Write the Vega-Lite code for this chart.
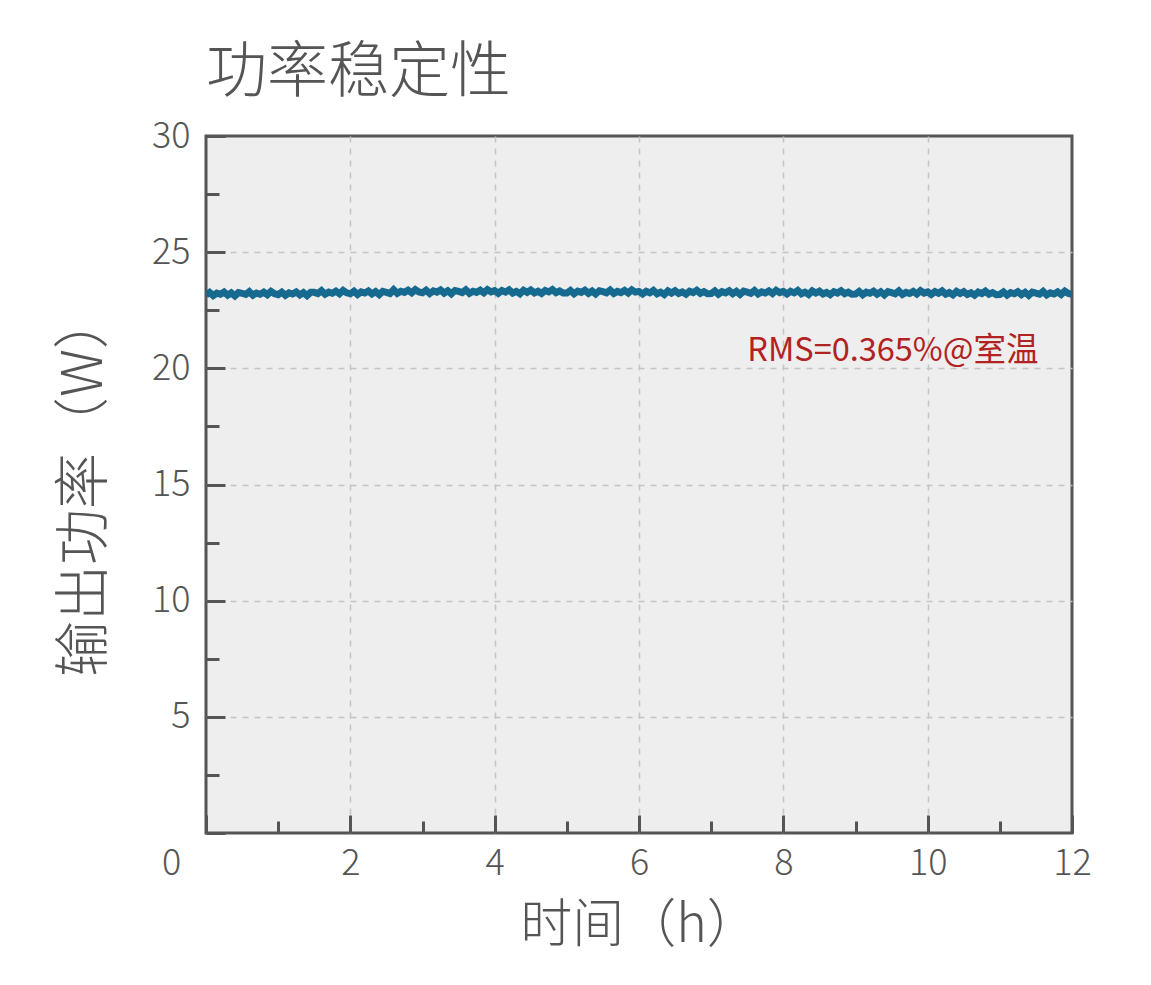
{
  "$schema": "https://vega.github.io/schema/vega-lite/v6.json",
  "autosize": {"type": "none"},
  "width": 866,
  "height": 697,
  "padding": {"left": 206, "top": 136, "right": 79, "bottom": 152},
  "background": "white",
  "config": {
    "font": "Noto Sans CJK SC",
    "view": {"fill": "#eeeeee", "stroke": "#555555", "strokeWidth": 3}
  },
  "title": {
    "text": "功率稳定性",
    "anchor": "start",
    "frame": "group",
    "fontSize": 61,
    "fontWeight": 300,
    "color": "#555555",
    "offset": 13
  },
  "datasets": {
    "power": [
      {"t":0,"p":23.16},{"t":0.05,"p":23.27},{"t":0.1,"p":23.13},{"t":0.15,"p":23.24},{"t":0.2,"p":23.19},{"t":0.25,"p":23.28},{"t":0.3,"p":23.15},{"t":0.35,"p":23.25},{"t":0.4,"p":23.12},{"t":0.45,"p":23.26},
      {"t":0.5,"p":23.23},{"t":0.55,"p":23.18},{"t":0.6,"p":23.30},{"t":0.65,"p":23.15},{"t":0.7,"p":23.24},{"t":0.75,"p":23.19},{"t":0.8,"p":23.28},{"t":0.85,"p":23.17},{"t":0.9,"p":23.31},{"t":0.95,"p":23.21},
      {"t":1,"p":23.17},{"t":1.05,"p":23.28},{"t":1.1,"p":23.14},{"t":1.15,"p":23.25},{"t":1.2,"p":23.20},{"t":1.25,"p":23.29},{"t":1.3,"p":23.16},{"t":1.35,"p":23.26},{"t":1.4,"p":23.13},{"t":1.45,"p":23.27},
      {"t":1.5,"p":23.27},{"t":1.55,"p":23.22},{"t":1.6,"p":23.34},{"t":1.65,"p":23.19},{"t":1.7,"p":23.28},{"t":1.75,"p":23.23},{"t":1.8,"p":23.32},{"t":1.85,"p":23.21},{"t":1.9,"p":23.35},{"t":1.95,"p":23.25},
      {"t":2,"p":23.21},{"t":2.05,"p":23.32},{"t":2.1,"p":23.18},{"t":2.15,"p":23.29},{"t":2.2,"p":23.24},{"t":2.25,"p":23.33},{"t":2.3,"p":23.20},{"t":2.35,"p":23.30},{"t":2.4,"p":23.17},{"t":2.45,"p":23.31},
      {"t":2.5,"p":23.27},{"t":2.55,"p":23.22},{"t":2.6,"p":23.38},{"t":2.65,"p":23.23},{"t":2.7,"p":23.32},{"t":2.75,"p":23.27},{"t":2.8,"p":23.36},{"t":2.85,"p":23.25},{"t":2.9,"p":23.39},{"t":2.95,"p":23.29},
      {"t":3,"p":23.25},{"t":3.05,"p":23.36},{"t":3.1,"p":23.22},{"t":3.15,"p":23.33},{"t":3.2,"p":23.28},{"t":3.25,"p":23.37},{"t":3.3,"p":23.24},{"t":3.35,"p":23.34},{"t":3.4,"p":23.21},{"t":3.45,"p":23.35},
      {"t":3.5,"p":23.31},{"t":3.55,"p":23.26},{"t":3.6,"p":23.38},{"t":3.65,"p":23.23},{"t":3.7,"p":23.32},{"t":3.75,"p":23.27},{"t":3.8,"p":23.36},{"t":3.85,"p":23.25},{"t":3.9,"p":23.39},{"t":3.95,"p":23.29},
      {"t":4,"p":23.34},{"t":4.05,"p":23.23},{"t":4.1,"p":23.35},{"t":4.15,"p":23.28},{"t":4.2,"p":23.38},{"t":4.25,"p":23.24},{"t":4.3,"p":23.31},{"t":4.35,"p":23.21},{"t":4.4,"p":23.36},{"t":4.45,"p":23.27},
      {"t":4.5,"p":23.37},{"t":4.55,"p":23.25},{"t":4.6,"p":23.32},{"t":4.65,"p":23.22},{"t":4.7,"p":23.35},{"t":4.75,"p":23.29},{"t":4.8,"p":23.39},{"t":4.85,"p":23.26},{"t":4.9,"p":23.33},{"t":4.95,"p":23.24},
      {"t":5,"p":23.24},{"t":5.05,"p":23.35},{"t":5.1,"p":23.21},{"t":5.15,"p":23.32},{"t":5.2,"p":23.27},{"t":5.25,"p":23.36},{"t":5.3,"p":23.23},{"t":5.35,"p":23.33},{"t":5.4,"p":23.20},{"t":5.45,"p":23.34},
      {"t":5.5,"p":23.30},{"t":5.55,"p":23.25},{"t":5.6,"p":23.37},{"t":5.65,"p":23.22},{"t":5.7,"p":23.31},{"t":5.75,"p":23.26},{"t":5.8,"p":23.35},{"t":5.85,"p":23.24},{"t":5.9,"p":23.38},{"t":5.95,"p":23.28},
      {"t":6,"p":23.31},{"t":6.05,"p":23.20},{"t":6.1,"p":23.32},{"t":6.15,"p":23.25},{"t":6.2,"p":23.35},{"t":6.25,"p":23.21},{"t":6.3,"p":23.28},{"t":6.35,"p":23.18},{"t":6.4,"p":23.33},{"t":6.45,"p":23.24},
      {"t":6.5,"p":23.34},{"t":6.55,"p":23.22},{"t":6.6,"p":23.29},{"t":6.65,"p":23.19},{"t":6.7,"p":23.32},{"t":6.75,"p":23.26},{"t":6.8,"p":23.36},{"t":6.85,"p":23.23},{"t":6.9,"p":23.30},{"t":6.95,"p":23.21},
      {"t":7,"p":23.22},{"t":7.05,"p":23.33},{"t":7.1,"p":23.19},{"t":7.15,"p":23.30},{"t":7.2,"p":23.25},{"t":7.25,"p":23.34},{"t":7.3,"p":23.21},{"t":7.35,"p":23.31},{"t":7.4,"p":23.18},{"t":7.45,"p":23.32},
      {"t":7.5,"p":23.28},{"t":7.55,"p":23.23},{"t":7.6,"p":23.35},{"t":7.65,"p":23.20},{"t":7.7,"p":23.29},{"t":7.75,"p":23.24},{"t":7.8,"p":23.33},{"t":7.85,"p":23.22},{"t":7.9,"p":23.36},{"t":7.95,"p":23.26},
      {"t":8,"p":23.31},{"t":8.05,"p":23.20},{"t":8.1,"p":23.32},{"t":8.15,"p":23.25},{"t":8.2,"p":23.35},{"t":8.25,"p":23.21},{"t":8.3,"p":23.28},{"t":8.35,"p":23.18},{"t":8.4,"p":23.33},{"t":8.45,"p":23.24},
      {"t":8.5,"p":23.32},{"t":8.55,"p":23.20},{"t":8.6,"p":23.27},{"t":8.65,"p":23.17},{"t":8.7,"p":23.30},{"t":8.75,"p":23.24},{"t":8.8,"p":23.34},{"t":8.85,"p":23.21},{"t":8.9,"p":23.28},{"t":8.95,"p":23.19},
      {"t":9,"p":23.20},{"t":9.05,"p":23.31},{"t":9.1,"p":23.17},{"t":9.15,"p":23.28},{"t":9.2,"p":23.23},{"t":9.25,"p":23.32},{"t":9.3,"p":23.19},{"t":9.35,"p":23.29},{"t":9.4,"p":23.16},{"t":9.45,"p":23.30},
      {"t":9.5,"p":23.26},{"t":9.55,"p":23.21},{"t":9.6,"p":23.33},{"t":9.65,"p":23.18},{"t":9.7,"p":23.27},{"t":9.75,"p":23.22},{"t":9.8,"p":23.31},{"t":9.85,"p":23.20},{"t":9.9,"p":23.34},{"t":9.95,"p":23.24},
      {"t":10,"p":23.29},{"t":10.05,"p":23.18},{"t":10.1,"p":23.30},{"t":10.15,"p":23.23},{"t":10.2,"p":23.33},{"t":10.25,"p":23.19},{"t":10.3,"p":23.26},{"t":10.35,"p":23.16},{"t":10.4,"p":23.31},{"t":10.45,"p":23.22},
      {"t":10.5,"p":23.30},{"t":10.55,"p":23.18},{"t":10.6,"p":23.25},{"t":10.65,"p":23.15},{"t":10.7,"p":23.28},{"t":10.75,"p":23.22},{"t":10.8,"p":23.32},{"t":10.85,"p":23.19},{"t":10.9,"p":23.26},{"t":10.95,"p":23.17},
      {"t":11,"p":23.18},{"t":11.05,"p":23.29},{"t":11.1,"p":23.15},{"t":11.15,"p":23.26},{"t":11.2,"p":23.21},{"t":11.25,"p":23.30},{"t":11.3,"p":23.17},{"t":11.35,"p":23.27},{"t":11.4,"p":23.14},{"t":11.45,"p":23.28},
      {"t":11.5,"p":23.24},{"t":11.55,"p":23.19},{"t":11.6,"p":23.31},{"t":11.65,"p":23.16},{"t":11.7,"p":23.25},{"t":11.75,"p":23.20},{"t":11.8,"p":23.29},{"t":11.85,"p":23.18},{"t":11.9,"p":23.32},{"t":11.95,"p":23.22},
      {"t":12,"p":23.18}
    ],
    "note": [{"label": "RMS=0.365%@室温", "t": 7.5, "p": 20.3}]
  },
  "layer": [
    {
      "data": {"name": "power"},
      "mark": {"type": "line", "color": "#16698f", "strokeWidth": 7, "clip": true},
      "encoding": {
        "x": {
          "field": "t", "type": "quantitative",
          "scale": {"domain": [0, 12], "nice": false, "zero": false},
          "axis": {
            "values": [0,1,2,3,4,5,6,7,8,9,10,11,12],
            "format": "d",
            "labelExpr": "datum.value % 2 == 0 ? datum.label : ''",
            "domain": false,
            "tickColor": "#555555",
            "tickWidth": 3,
            "tickSize": {"condition": {"test": "datum.value % 2 == 0", "value": -18}, "value": -12},
            "labelPadding": {"condition": {"test": "datum.value % 2 == 0", "value": 31}, "value": 25},
            "labelOffset": {"condition": {"test": "datum.value == 0", "value": -35}, "value": 0},
            "labelFontSize": 36,
            "labelFontWeight": 300,
            "labelColor": "#555555",
            "labelFlush": false,
            "labelOverlap": false,
            "grid": true,
            "gridColor": "#c4c4c4",
            "gridWidth": 1.5,
            "gridDash": [6, 6],
            "gridOpacity": {"condition": {"test": "datum.value % 2 == 0 && datum.value > 0 && datum.value < 12", "value": 1}, "value": 0},
            "title": "时间（h）",
            "titleFontSize": 52,
            "titleFontWeight": 300,
            "titleColor": "#555555",
            "titlePadding": 19
          }
        },
        "y": {
          "field": "p", "type": "quantitative",
          "scale": {"domain": [0, 30], "nice": false, "zero": false},
          "axis": {
            "values": [0,2.5,5,7.5,10,12.5,15,17.5,20,22.5,25,27.5,30],
            "format": "d",
            "labelExpr": "datum.value % 5 == 0 && datum.value > 0 ? datum.label : ''",
            "domain": false,
            "tickColor": "#555555",
            "tickWidth": 3,
            "tickSize": {"condition": {"test": "datum.value % 5 == 0", "value": -19}, "value": -13},
            "labelPadding": {"condition": {"test": "datum.value % 5 == 0", "value": 35}, "value": 29},
            "labelFontSize": 36,
            "labelFontWeight": 300,
            "labelColor": "#555555",
            "labelFlush": false,
            "labelOverlap": false,
            "grid": true,
            "gridColor": "#c4c4c4",
            "gridWidth": 1.5,
            "gridDash": [6, 6],
            "gridOpacity": {"condition": {"test": "datum.value % 5 == 0 && datum.value > 0 && datum.value < 30", "value": 1}, "value": 0},
            "title": "输出功率（W）",
            "titleFontSize": 56,
            "titleFontWeight": 300,
            "titleColor": "#555555",
            "titlePadding": 38
          }
        }
      }
    },
    {
      "data": {"name": "note"},
      "mark": {"type": "text", "align": "left", "baseline": "alphabetic", "fontSize": 32.5, "color": "#b22222"},
      "encoding": {
        "x": {"field": "t", "type": "quantitative"},
        "y": {"field": "p", "type": "quantitative"},
        "text": {"field": "label"}
      }
    }
  ]
}
